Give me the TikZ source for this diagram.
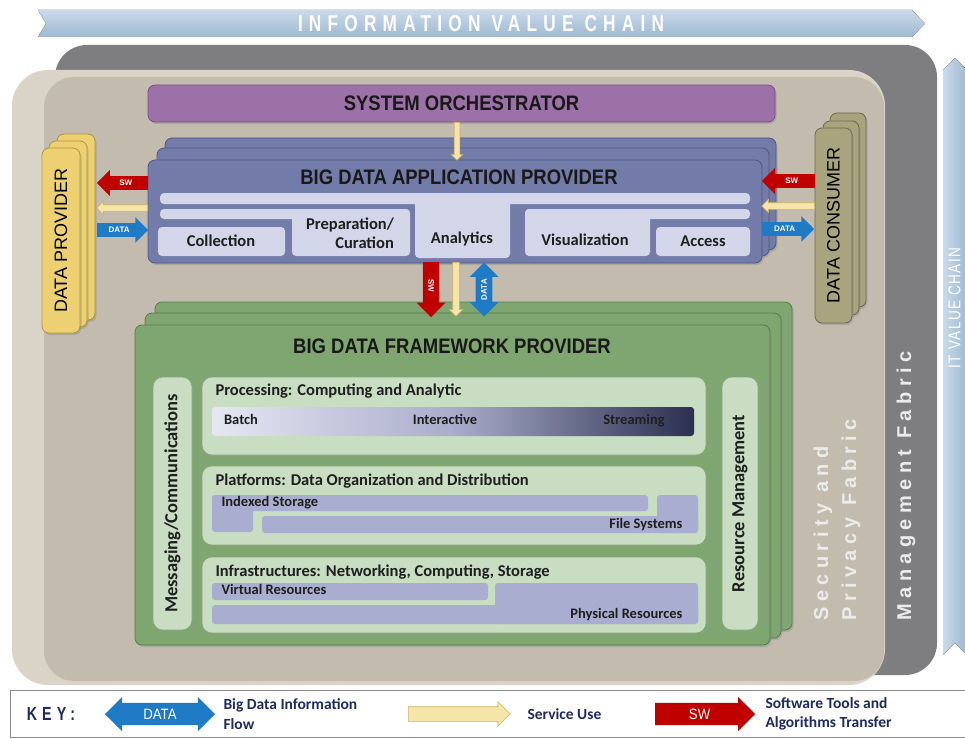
\documentclass[tikz,border=0pt]{standalone}
\usepackage{fontspec}
\setmainfont{Carlito}
\newfontfamily\narrowfont[FakeStretch=0.88]{Liberation Sans}
\newfontfamily\chainfont[FakeStretch=0.75,LetterSpace=27]{Liberation Sans}
\newfontfamily\itchainfont[FakeStretch=0.8,LetterSpace=8]{Liberation Sans}
\newfontfamily\fabricfont[LetterSpace=27]{Liberation Sans}
\newfontfamily\plainfont{Liberation Sans}
\usetikzlibrary{shapes.arrows,fit,shadows}

\definecolor{chainblue}{HTML}{C9DAEA}
\definecolor{chainblueD}{HTML}{9FB8D1}
\definecolor{mgmtgrey}{HTML}{7E7E80}
\definecolor{secbeige}{HTML}{DAD4C8}
\definecolor{secbeigeD}{HTML}{C3BCAE}
\definecolor{orchpurple}{HTML}{9C71A8}
\definecolor{orchline}{HTML}{7A5088}
\definecolor{appblue}{HTML}{737BA9}
\definecolor{appline}{HTML}{4F5886}
\definecolor{applight}{HTML}{D3D6E9}
\definecolor{provgold}{HTML}{ECD071}
\definecolor{provline}{HTML}{B3953E}
\definecolor{consolive}{HTML}{A9A37E}
\definecolor{consline}{HTML}{6C684C}
\definecolor{fwgreen}{HTML}{7FA670}
\definecolor{fwline}{HTML}{557E49}
\definecolor{fwlight}{HTML}{C8DDC2}
\definecolor{barlav}{HTML}{A9AED0}
\definecolor{gradL}{HTML}{E5E7F2}
\definecolor{gradM}{HTML}{A9ADCB}
\definecolor{gradR}{HTML}{2C3050}
\definecolor{swred}{HTML}{C00000}
\definecolor{svcfill}{HTML}{F6E5A8}
\definecolor{svcline}{HTML}{CDB166}
\definecolor{datablue}{HTML}{1F7BC6}
\definecolor{keynavy}{HTML}{1F2B5E}

\tikzset{
  boxshadow/.style={drop shadow={opacity=0.35,shadow xshift=1.5pt,shadow yshift=-2pt}},
  layer/.style={rounded corners=7pt, inner sep=0pt, line width=0.8pt, boxshadow},
  orchbox/.style={layer, draw=orchline, fill=orchpurple},
  appbox/.style={layer, draw=appline, fill=appblue},
  provbox/.style={layer, draw=provline, fill=provgold},
  consbox/.style={layer, draw=consline, fill=consolive},
  fwbox/.style={layer, draw=fwline, fill=fwgreen},
  panel/.style={rounded corners=10pt, inner sep=0pt, draw=fwline!70, line width=0.6pt, fill=fwlight},
  bar/.style={fill=barlav, rounded corners=3pt},
  light/.style={fill=applight, rounded corners=4pt},
  title/.style={font=\narrowfont\bfseries\fontsize{21}{24}\selectfont, text=black!90},
  lbl/.style={font=\bfseries\fontsize{16.5}{19}\selectfont, text=black!88},
  sublbl/.style={font=\bfseries\fontsize{14.5}{16}\selectfont, text=black!88, text height=10pt, text depth=3pt},
  keylbl/.style={font=\bfseries\fontsize{15.5}{19.5}\selectfont, text=keynavy, anchor=west, align=left},
  fabric/.style={font=\fabricfont\bfseries\fontsize{20}{28}\selectfont, text=white!92!black, rotate=90, anchor=west, align=left},
  swarrow/.style={single arrow, fill=swred, text=white, font=\plainfont\bfseries\fontsize{8}{8}\selectfont,
    text height=5.5pt, text depth=0pt, inner ysep=4pt, inner xsep=1pt, single arrow head extend=6pt},
  svcarrow/.style={single arrow, fill=svcfill, draw=svcline, line width=0.6pt, inner xsep=0pt, inner ysep=3pt,
    single arrow head extend=3.5pt},
  dataarrow/.style={swarrow, fill=datablue},
  databoth/.style={double arrow, fill=datablue, text=white, font=\plainfont\bfseries\fontsize{8}{8}\selectfont,
    text height=5.5pt, text depth=0pt, inner ysep=4pt, inner xsep=1pt, double arrow head extend=6pt},
}

\begin{document}
\begin{tikzpicture}[x=1pt,y=-1pt]
    \useasboundingbox (0,0) rectangle (965,738);

    % Value chains
    \fill[top color=chainblue, bottom color=chainblueD] (38,10) -- (912,10) -- (925,23.5) -- (912,37) -- (38,37) -- (46,23.5) -- cycle;
    \node[font=\chainfont\bfseries\fontsize{23}{23}\selectfont, text=white] (ivc) at (481,24) {INFORMATION VALUE CHAIN};
    \fill[left color=chainblue, right color=chainblueD] (943,70) -- (955,58) -- (967,70) -- (967,655) -- (955,643) -- (943,655) -- cycle;
    \node[font=\itchainfont\fontsize{17}{17}\selectfont, text=white, rotate=90, inner sep=1pt] (itvc) at (954.5,308) {IT VALUE CHAIN};

    % Fabrics
    \fill[mgmtgrey, rounded corners=32pt] (55,45) rectangle (937,675);
    \fill[secbeige, rounded corners=36pt] (12,70) rectangle (885,685);
    \fill[secbeigeD, rounded corners=30pt] (44,77) rectangle (884,681);
    \node[fabric] (sec) at (837,624) {Security and\\Privacy Fabric};
    \node[fabric] (mgmt) at (906,624) {Management Fabric};

    % System orchestrator
    \node[orchbox, fit={(148,85) (775,122)}] (orch) {};
    \node[title] (orchT) at (orch) {SYSTEM ORCHESTRATOR};

    % Application provider
    \node[appbox, fit={(165,138) (776,250)}] (appC) {};
    \node[appbox, fit={(157,148) (769,256)}] (appB) {};
    \node[appbox, fit={(148,160) (762,263)}] (app) {};
    \node[title] (appT) at (459,177) {BIG DATA APPLICATION PROVIDER};
    \fill[light] (160,193) rectangle (750,204);
    \fill[light] (415,193) rectangle (510,258);
    \fill[light] (160,209) rectangle (410,219);
    \fill[light] (292,209) rectangle (410,256);
    \fill[light] (158,227) rectangle (285,256);
    \fill[light] (525,209) rectangle (750,219);
    \fill[light] (525,209) rectangle (650,256);
    \fill[light] (656,227) rectangle (750,256);
    \node[lbl] (coll) at (221,241) {Collection};
    \node[lbl, align=right] (prep) at (350,233) {Preparation/\\Curation};
    \node[lbl] (anal) at (462,239) {Analytics};
    \node[lbl] (viz) at (585,240) {Visualization};
    \node[lbl] (acc) at (703,241) {Access};

    % Data provider and consumer
    \node[provbox, fit={(57,134) (95,320)}] (dpC) {};
    \node[provbox, fit={(49,141) (87,327)}] (dpB) {};
    \node[provbox, fit={(42,148) (80,333)}] (dp) {};
    \node[rotate=90, font=\plainfont\fontsize{18}{18}\selectfont] (dpT) at (dp) {DATA PROVIDER};
    \node[consbox, fit={(830,113) (866,307)}] (dcC) {};
    \node[consbox, fit={(823,121) (859,315)}] (dcB) {};
    \node[consbox, fit={(815,128) (852,323)}] (dc) {};
    \node[rotate=90, font=\plainfont\fontsize{18}{18}\selectfont] (dcT) at (dc) {DATA CONSUMER};

    % Framework provider
    \node[fwbox, fit={(155,302) (792,630)}] (fwC) {};
    \node[fwbox, fit={(145,313) (781,638)}] (fwB) {};
    \node[fwbox, fit={(135,325) (770,645)}] (fw) {};
    \node[title] (fwT) at (452,346) {BIG DATA FRAMEWORK PROVIDER};
    \node[panel, fit={(153,377) (192,630)}] (msg) {};
    \node[lbl, rotate=90, font=\bfseries\fontsize{18.5}{18.5}\selectfont] (msgT) at (msg) {Messaging/Communications};
    \node[panel, fit={(722,377) (758,630)}] (res) {};
    \node[lbl, rotate=90, font=\bfseries\fontsize{18.5}{18.5}\selectfont] (resT) at (res) {Resource Management};

    % Processing
    \node[panel, fit={(202,377) (706,455)}] (proc) {};
    \node[lbl, anchor=west] (procT) at (212,391) {Processing: Computing and Analytic};
    \shade[rounded corners=3pt, left color=gradL, right color=gradR, middle color=gradM] (212,407) rectangle (694,436);
    \node[sublbl] (batch) at (241,421) {Batch};
    \node[sublbl] (inter) at (445,421) {Interactive};
    \node[sublbl] (stream) at (634,421) {Streaming};

    % Platforms
    \node[panel, fit={(202,466) (706,545)}] (plat) {};
    \node[lbl, anchor=west] (platT) at (212,481) {Platforms: Data Organization and Distribution};
    \fill[bar] (212,495) rectangle (648,511);
    \fill[bar] (212,495) rectangle (253,532);
    \fill[bar] (657,495) rectangle (698,533);
    \fill[bar] (262,516) rectangle (698,533);
    \node[sublbl, anchor=west] (idx) at (218,503) {Indexed Storage};
    \node[sublbl, anchor=east] (files) at (686,525) {File Systems};

    % Infrastructures
    \node[panel, fit={(202,557) (706,633)}] (infra) {};
    \node[lbl, anchor=west] (infraT) at (212,572) {Infrastructures: Networking, Computing, Storage};
    \fill[bar] (212,583) rectangle (488,600);
    \fill[bar] (495,583) rectangle (698,624);
    \fill[bar] (212,605) rectangle (698,624);
    \node[sublbl, anchor=west] (virt) at (218,591) {Virtual Resources};
    \node[sublbl, anchor=east] (phys) at (686,615) {Physical Resources};

    % Flows
    \node[svcarrow, rotate=-90, minimum height=38pt, anchor=tail, inner ysep=2.5pt, single arrow head extend=3pt] (svO) at (457,122) {};
    \node[swarrow, shape border rotate=180, minimum height=51pt, anchor=tail] (swL) at (148,183) {SW};
    \node[svcarrow, shape border rotate=180, minimum height=51pt, anchor=tail] (svL) at (148,208) {};
    \node[dataarrow, minimum height=51pt, anchor=tail] (daL) at (97,230) {DATA};
    \node[swarrow, shape border rotate=180, minimum height=53pt, anchor=tail] (swR) at (815,181) {SW};
    \node[svcarrow, shape border rotate=180, minimum height=53pt, anchor=tail] (svR) at (815,206) {};
    \node[dataarrow, minimum height=52pt, anchor=tail] (daR) at (762,229) {DATA};
    \node[swarrow, rotate=-90, minimum height=55pt, anchor=tail, inner ysep=5.2pt, single arrow head extend=6.5pt] (swM) at (431,262) {SW};
    \node[svcarrow, rotate=-90, minimum height=54pt, anchor=tail] (svM) at (456,262) {};
    \node[databoth, rotate=90, minimum height=54pt, inner ysep=5.5pt] (daM) at (484,289.5) {DATA};

    % Key
    \node[draw=black!45, fill=white, line width=0.8pt, inner sep=0pt, fit={(10,690) (975,737)}] (key) {};
    \node[font=\chainfont\bfseries\fontsize{19}{19}\selectfont, text=keynavy] (keyT) at (51,714) {KEY:};
    \node[databoth, minimum height=110pt, font=\narrowfont\fontsize{15}{15}\selectfont, text height=11pt, inner ysep=5.5pt] (kData) at (160,714) {DATA};
    \node[keylbl] (kDataT) at (220,714) {Big Data Information\\Flow};
    \node[svcarrow, minimum height=102pt, anchor=tail, inner ysep=7pt, single arrow head extend=5pt] (kSvc) at (408,714) {};
    \node[keylbl] (kSvcT) at (524,714) {Service Use};
    \node[swarrow, minimum height=100pt, anchor=tail, font=\narrowfont\fontsize{15}{15}\selectfont, text height=11pt, inner ysep=5.5pt] (kSw) at (655,714) {SW};
    \node[keylbl] (kSwT) at (762,714) {Software Tools and\\Algorithms Transfer};
\end{tikzpicture}
\end{document}
